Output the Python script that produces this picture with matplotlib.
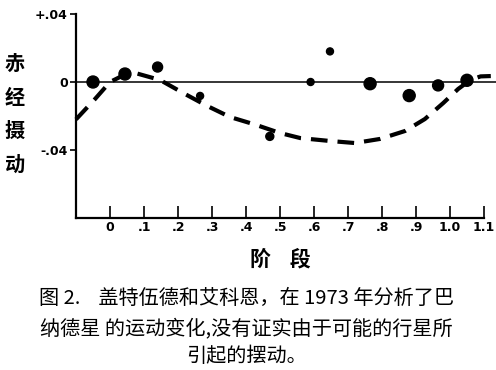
import matplotlib.pyplot as plt

plt.rcParams['font.family'] = ['Noto Sans CJK SC', 'DejaVu Sans']

# observed points (phase, RA perturbation)
phase = [-0.05, 0.044, 0.14, 0.265, 0.47, 0.59, 0.647, 0.765, 0.88, 0.965, 1.05]
perturb = [0.0, 0.0047, 0.0088, -0.0082, -0.032, 0.0, 0.018, -0.001, -0.008, -0.002, 0.001]
dot_px = [12, 12, 10, 7, 8, 7, 7, 12, 12, 11, 12]

# dashed fitted curve
curve_x = [-0.1, -0.044, 0.0, 0.04, 0.074, 0.147, 0.22, 0.285, 0.353, 0.426, 0.5,
           0.56, 0.647, 0.72, 0.794, 0.868, 0.926, 0.98, 1.024, 1.06, 1.09, 1.12]
curve_y = [-0.022, -0.010, 0.0, 0.004, 0.0053, 0.0012, -0.007, -0.014, -0.0206, -0.025, -0.030,
           -0.033, -0.0347, -0.0359, -0.0335, -0.0288, -0.0218, -0.0124, -0.0041, 0.0012, 0.0033, 0.0035]

xticks = [0, 0.1, 0.2, 0.3, 0.4, 0.5, 0.6, 0.7, 0.8, 0.9, 1.0, 1.1]
xticklabels = ['0', '.1', '.2', '.3', '.4', '.5', '.6', '.7', '.8', '.9', '1.0', '1.1']
yticks = [-0.04, 0, 0.04]
yticklabels = ['-.04', '0', '+.04']

caption = ['图 2.    盖特伍德和艾科恩，在 1973 年分析了巴',
           '纳德星 的运动变化,没有证实由于可能的行星所',
           '引起的摆动。']

fig = plt.figure(figsize=(4.96, 3.7), dpi=100)
ax = fig.add_axes([76 / 496, 152 / 370, 421.6 / 496, 204 / 370])
ax.set_xlim(-0.1, 1.14)
ax.set_ylim(-0.08, 0.04)

ax.axhline(0, color='black', lw=1.1, zorder=1)
ax.plot(curve_x, curve_y, color='black', lw=3, dashes=(4, 2.4), zorder=2, clip_on=False)
ax.scatter(phase, perturb, s=[(d * 0.72) ** 2 for d in dot_px], color='black', zorder=3)

for side in ['top', 'right']:
    ax.spines[side].set_visible(False)
for side in ['left', 'bottom']:
    ax.spines[side].set_linewidth(1.6)
ax.spines['bottom'].set_bounds(-0.1, 1.1)

ax.set_xticks(xticks)
ax.set_xticklabels(xticklabels, family='DejaVu Sans', fontweight='bold', fontsize=9)
ax.set_yticks(yticks)
ax.set_yticklabels(yticklabels, family='DejaVu Sans', fontweight='bold', fontsize=9)
ax.tick_params(axis='x', direction='in', length=9, width=1.2, pad=2)
ax.tick_params(axis='y', direction='out', length=4, width=1.2, pad=2)

# axis titles
fig.text(280 / 496, 1 - 259 / 370, '阶    段', fontsize=15, fontweight='bold',
         ha='center', va='center')
fig.text(15 / 496, 1 - 114 / 370, '赤\n经\n摄\n动', fontsize=14.5, fontweight='bold',
         ha='center', va='center', linespacing=1.75)

ys = [298, 329, 357]
for line, y in zip(caption, ys):
    fig.text(0.497, 1 - y / 370, line, fontsize=14.5, ha='center', va='center')

fig.savefig('out.png', dpi=100)
